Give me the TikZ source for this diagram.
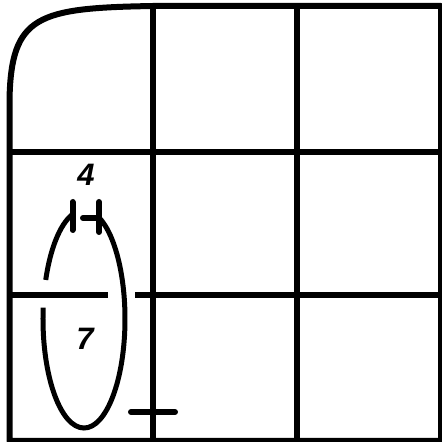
\documentclass[tikz,border=0pt]{standalone}
\usepackage{fontspec}
\setmainfont{Liberation Sans}
\usetikzlibrary{positioning}

\begin{document}
\begin{tikzpicture}[
          x=1pt, y=1pt,
          gridline/.style={
              draw=black,
              line width=6pt,
              line join=round
            },
          loopline/.style={
              draw=black,
              line width=5pt
            },
          tickline/.style={
              draw=black,
              line width=6pt,
              line cap=round
            },
          digit/.style={
              inner sep=0pt,
              font=\fontsize{31}{35}\selectfont\bfseries\itshape
            }
        ]
        \useasboundingbox (0,0) rectangle (442,442);

        % outer frame with the bent corner
        \draw[gridline] (9.5,1) -- (9.5,342) .. controls (11,427) and (38,434) .. (153,436)
          -- (441,436) -- (441,1) -- cycle;
        \draw[gridline] (153,436) -- (153,1);
        \draw[gridline] (297,436) -- (297,1);
        \draw[gridline] (9.5,290) -- (441,290);
        \draw[gridline] (9.5,147) -- (108,147);
        \draw[gridline] (135,147) -- (441,147);

        \node[digit] (num4) at (86,267) {4};
        \node[digit] (num7) at (85,103) {7};

        % the loop round both cells
        \coordinate (loopc) at (84,123);
        \draw[loopline] ([shift={(107:41 and 109)}]loopc)
          arc[start angle=107, end angle=159, x radius=41, y radius=109];
        \draw[loopline] ([shift={(174:41 and 109)}]loopc)
          arc[start angle=174, end angle=428.5, x radius=41, y radius=109];

        \draw[tickline] (72.5,212) -- (72.5,240);
        \draw[tickline] (99,210) -- (99,240);
        \draw[tickline] (83,224) -- (99,224);
        \draw[tickline] (131,30) -- (175,30);
      \end{tikzpicture}
\end{document}
